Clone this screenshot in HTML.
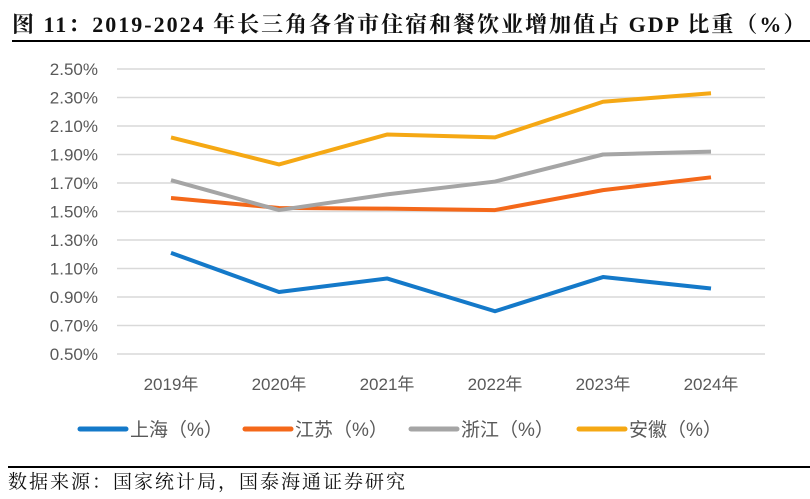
<!DOCTYPE html>
<html><head><meta charset="utf-8"><style>
body{margin:0;background:#fff;width:810px;height:499px;overflow:hidden;position:relative;font-family:"Liberation Sans","Noto Sans CJK SC",sans-serif}
#title{position:absolute;left:12px;top:8px;font-family:"Liberation Serif","Noto Serif CJK SC",serif;font-weight:bold;font-size:22px;letter-spacing:2px;color:#111;white-space:nowrap}
#tline{position:absolute;left:12px;top:40px;width:798px;height:2px;background:#000}
#fline{position:absolute;left:8px;top:466px;width:802px;height:2px;background:#000}
#src{position:absolute;left:8px;top:467px;font-family:"Noto Serif CJK SC",serif;font-size:19px;letter-spacing:2px;color:#111;white-space:nowrap}
</style></head><body>
<div id="title">图 11：2019-2024 年长三角各省市住宿和餐饮业增加值占 GDP 比重（%）</div>
<div id="tline"></div>
<svg id="chart" width="810" height="499" style="position:absolute;left:0;top:0"></svg>
<div id="fline"></div>
<div id="src">数据来源：国家统计局，国泰海通证券研究</div>
<script>
const categories=["2019年","2020年","2021年","2022年","2023年","2024年"];
const yTicks=[0.5,0.7,0.9,1.1,1.3,1.5,1.7,1.9,2.1,2.3,2.5];
const seriesNames=["上海（%）","江苏（%）","浙江（%）","安徽（%）"];
const shanghai=[1.21,0.935,1.03,0.80,1.04,0.96];
const jiangsu=[1.595,1.525,1.52,1.51,1.65,1.74];
const zhejiang=[1.72,1.51,1.62,1.71,1.90,1.92];
const anhui=[2.02,1.83,2.04,2.02,2.27,2.33];
const colors=["#1479c9","#f4681a","#a5a5a5","#f5a814"];
const NS="http://www.w3.org/2000/svg";
const svg=document.getElementById('chart');
const x0=117,x1=765,yTop=69,yBot=354;
const xs=i=>x0+(x1-x0)/categories.length*(i+0.5);
const ys=v=>yBot-(v-0.5)/2.0*(yBot-yTop);
function mk(t,a){const e=document.createElementNS(NS,t);for(const k in a)e.setAttribute(k,a[k]);svg.appendChild(e);return e;}
yTicks.forEach(v=>{
 const l=mk('line',{x1:x0,x2:x1,y1:ys(v),y2:ys(v),stroke:'#d9d9d9','stroke-width':1.5});
 
 
 const t=mk('text',{x:98,y:ys(v)+6,'text-anchor':'end','font-size':17,fill:'#595959'});
 t.textContent=v.toFixed(2)+'%';
 
 
});
categories.forEach((c,i)=>{
 const t=mk('text',{x:xs(i),y:390,'text-anchor':'middle','font-size':17,fill:'#595959'});
 t.textContent=c;
 
 
});
[shanghai,jiangsu,zhejiang,anhui].forEach((s,k)=>{
 const p=mk('polyline',{points:s.map((v,i)=>xs(i)+','+ys(v)).join(' '),fill:'none',stroke:colors[k],'stroke-width':4,'stroke-linejoin':'round'});
 
 
});
const lx=[80,245,411,579];
seriesNames.forEach((n,k)=>{
 const g=document.createElementNS(NS,'g');svg.appendChild(g);
 
 
 const l=document.createElementNS(NS,'line');
 [['x1',lx[k]],['x2',lx[k]+46],['y1',429],['y2',429],['stroke',colors[k]],['stroke-width',5],['stroke-linecap','round']].forEach(a=>l.setAttribute(a[0],a[1]));
 g.appendChild(l);
 const t=document.createElementNS(NS,'text');
 [['x',lx[k]+50],['y',436],['font-size',19],['fill','#595959']].forEach(a=>t.setAttribute(a[0],a[1]));
 t.textContent=n;g.appendChild(t);
});
</script>
</body></html>
